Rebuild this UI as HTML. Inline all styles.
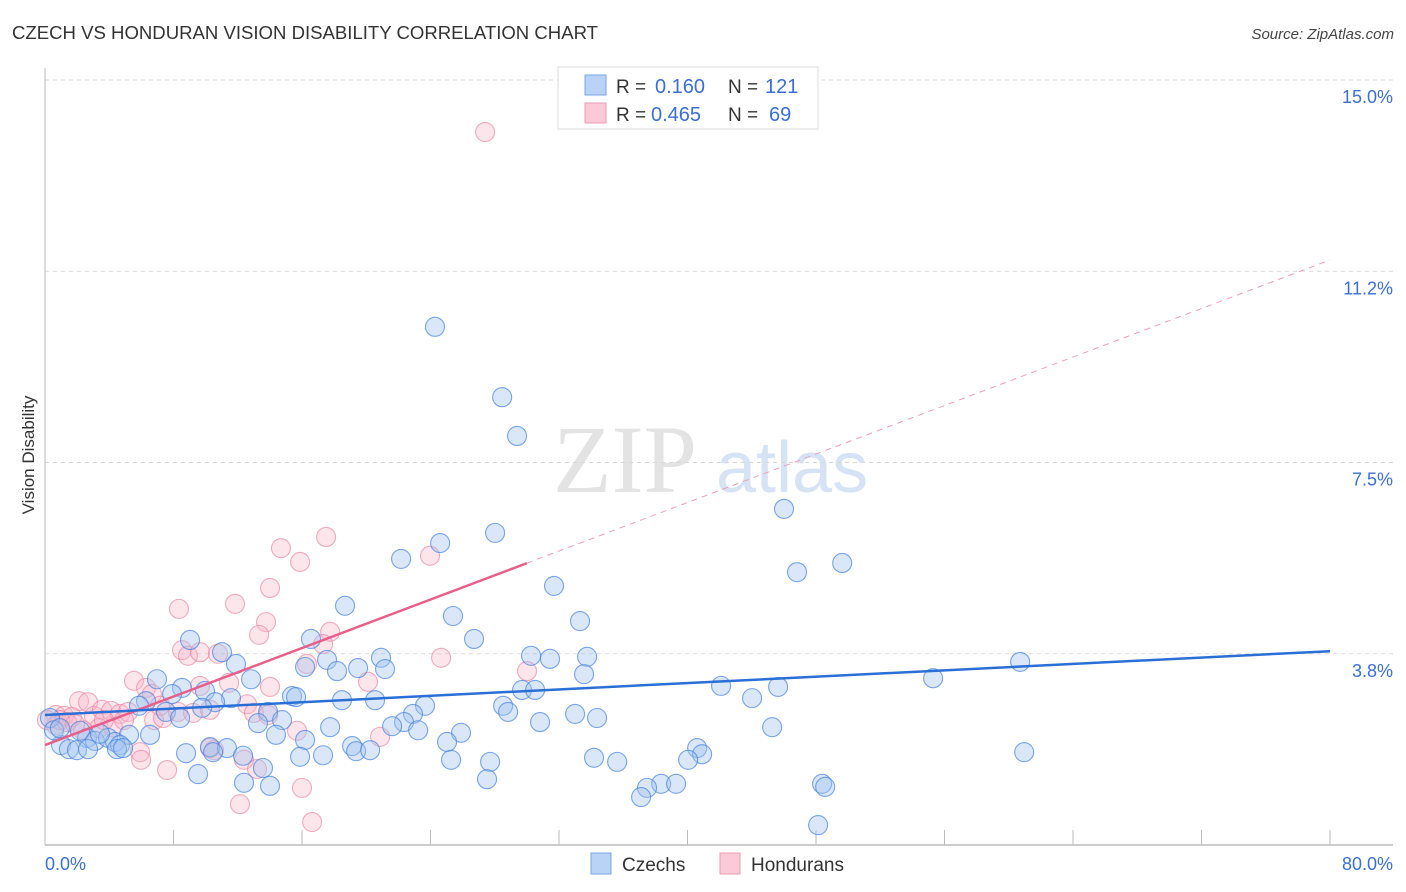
<!DOCTYPE html>
<html><head><meta charset="utf-8"><style>
body{margin:0;background:#fff;font-family:"Liberation Sans",sans-serif;}
svg{display:block}
</style></head><body>
<svg id="chart" width="1406" height="892" xmlns="http://www.w3.org/2000/svg">
<text x="12" y="39" font-size="18" fill="#333" textLength="586" lengthAdjust="spacingAndGlyphs">CZECH VS HONDURAN VISION DISABILITY CORRELATION CHART</text>
<text x="1394" y="39" font-size="15" fill="#444" font-style="italic" text-anchor="end">Source: ZipAtlas.com</text>
<g>
<text x="553" y="492" font-family="Liberation Serif,serif" font-size="96" fill="#e3e3e3">ZIP</text>
<text x="716" y="492" font-size="72" fill="#d6e3f5">atlas</text>
</g>
<g id="grid"></g>
<g id="axes"></g>
<g id="pink"></g>
<g id="blue"></g>
<g id="lines"></g>
<text transform="translate(34,455) rotate(-90)" font-size="17" fill="#333" text-anchor="middle">Vision Disability</text>
<g>
<rect x="558" y="67" width="260" height="62" fill="#fff" stroke="#ddd"/>
<rect x="585" y="75" width="21" height="20" fill="#b8d3f5" stroke="#7aa6e6"/>
<rect x="585" y="103" width="21" height="20" fill="#fbc9d8" stroke="#ee9ab3"/>
<text x="616" y="93" font-size="19" fill="#333">R =</text>
<text x="655" y="93" font-size="20" fill="#3b6fd4">0.160</text>
<text x="728" y="93" font-size="19" fill="#333">N =</text>
<text x="765" y="93" font-size="20" fill="#3b6fd4">121</text>
<text x="616" y="121" font-size="19" fill="#333">R =</text>
<text x="651" y="121" font-size="20" fill="#3b6fd4">0.465</text>
<text x="728" y="121" font-size="19" fill="#333">N =</text>
<text x="769" y="121" font-size="20" fill="#3b6fd4">69</text>
</g>
<g>
<rect x="591" y="853" width="20" height="21" fill="#b8d3f5" stroke="#7aa6e6"/>
<text x="622" y="871" font-size="19" fill="#333">Czechs</text>
<rect x="720" y="853" width="20" height="21" fill="#fbc9d8" stroke="#ee9ab3"/>
<text x="751" y="871" font-size="19" fill="#333">Hondurans</text>
</g>
</svg>
<script>
const xTickLabels=["0.0%","80.0%"];
const yTicks=[3.75,7.5,11.25,15];
const yTickLabels=["3.8%","7.5%","11.2%","15.0%"];
const czechX=[24.28,28.46,29.39,46.01,28.02,24.6,22.17,46.82,49.63,31.69,18.68,33.31,25.4,26.71,16.56,9.03,11.02,17.56,20.92,30.26,33.75,31.44,60.71,11.89,16.19,19.49,21.17,33.56,18.18,6.97,12.83,55.29,8.53,29.7,30.51,42.09,45.64,9.96,15.38,15.63,7.91,11.58,10.59,20.55,23.66,18.49,44.02,28.52,6.29,5.85,9.78,7.53,28.83,8.41,33.0,34.37,13.89,22.91,30.82,13.26,22.35,21.61,17.75,14.76,23.23,45.27,25.9,6.54,5.23,14.38,25.03,16.19,40.6,2.62,3.11,3.92,4.36,4.67,19.12,1.0,1.49,1.99,2.68,4.48,4.86,10.27,11.33,19.37,20.24,8.78,10.46,12.33,17.31,15.88,60.96,40.91,34.18,35.62,25.28,27.71,40.04,9.53,13.57,27.52,12.39,14.01,38.36,39.29,37.48,48.38,48.57,37.11,48.13,0.31,0.56,0.93,2.18,3.42];
const czechY=[10.16,8.78,8.02,6.59,6.12,5.92,5.61,5.35,5.53,5.08,4.69,4.39,4.49,4.04,4.04,4.02,3.78,3.63,3.67,3.71,3.69,3.65,3.59,3.55,3.49,3.47,3.45,3.35,3.41,3.25,3.25,3.27,3.08,3.04,3.04,3.12,3.10,3.02,2.92,2.90,2.96,2.88,2.80,2.84,2.73,2.84,2.88,2.73,2.82,2.73,2.69,2.61,2.61,2.49,2.57,2.49,2.61,2.57,2.41,2.39,2.41,2.33,2.31,2.45,2.25,2.31,2.20,2.16,2.16,2.16,2.02,2.06,1.90,2.10,2.04,2.10,2.02,1.96,1.94,1.96,1.88,1.86,1.88,1.88,1.90,1.92,1.90,1.84,1.86,1.80,1.82,1.75,1.76,1.73,1.82,1.78,1.71,1.63,1.67,1.63,1.67,1.39,1.51,1.29,1.22,1.16,1.20,1.20,1.12,1.20,1.14,0.94,0.39,2.49,2.25,2.29,2.24,2.18];
const hondX=[27.4,17.5,14.69,15.88,23.97,14.01,8.34,11.83,13.76,13.33,17.75,17.31,8.53,8.9,9.65,10.77,24.66,16.31,30.01,5.54,6.29,11.46,20.11,6.66,9.65,14.01,12.58,2.12,2.68,0.68,1.18,1.68,3.05,3.55,4.11,4.67,5.17,6.79,7.35,8.28,9.22,10.27,13.01,13.89,15.69,20.86,0.68,3.36,4.23,2.37,5.92,5.98,10.52,12.39,10.27,13.2,7.6,12.14,16.0,16.63,0.93,1.37,1.87,0.12,4.92,7.16,3.67];
const hondY=[13.98,6.04,5.82,5.55,5.67,5.04,4.63,4.73,4.37,4.12,4.18,3.94,3.82,3.71,3.78,3.75,3.67,3.55,3.41,3.22,3.08,3.18,3.20,2.96,3.12,3.10,2.76,2.82,2.80,2.55,2.53,2.51,2.53,2.65,2.63,2.57,2.61,2.45,2.49,2.61,2.59,2.65,2.59,2.55,2.24,2.12,2.35,2.29,2.31,2.25,1.82,1.67,1.86,1.67,1.90,1.49,1.47,0.80,1.12,0.45,2.45,2.41,2.37,2.45,2.45,2.73,2.45];
const czechTrend=[2.55,3.80];
const hondTrend=[1.96,11.47];
const hondSolidEnd=30.0;

const X0=45,X1=1330,YB=845,YS=51;
const sx=v=>X0+(v/80)*(X1-X0);
const sy=v=>YB-v*YS;
const NS="http://www.w3.org/2000/svg";
function mk(tag,attrs,parent){const e=document.createElementNS(NS,tag);for(const k in attrs)e.setAttribute(k,attrs[k]);parent.appendChild(e);return e;}
const grid=document.getElementById('grid');
yTicks.forEach((t,i)=>{
  const l=mk('line',{x1:X0,x2:1393,y1:sy(t),y2:sy(t),stroke:'#d8d8d8','stroke-dasharray':'4,4'},grid);
  
  
  const tx=mk('text',{x:1393,y:sy(t)+23,'font-size':18,fill:'#3b6fd4','text-anchor':'end'},grid);
  tx.textContent=yTickLabels[i];
  
  
});
const axes=document.getElementById('axes');
const ya=mk('line',{x1:X0,x2:X0,y1:68,y2:YB,stroke:'#bbb'},axes);


const xa=mk('line',{x1:X0,x2:1393,y1:YB,y2:YB,stroke:'#bbb','stroke-width':1.5},axes);


for(let v=0;v<=80;v+=8){
  const t=mk('line',{x1:sx(v),x2:sx(v),y1:YB,y2:YB-15,stroke:'#bbb'},axes);
  
  
}
const xl0=mk('text',{x:45,y:870,'font-size':18,fill:'#3b6fd4'},axes);xl0.textContent=xTickLabels[0];


const xl1=mk('text',{x:1393,y:870,'font-size':18,fill:'#3b6fd4','text-anchor':'end'},axes);xl1.textContent=xTickLabels[1];


const bg=document.getElementById('blue'),pg=document.getElementById('pink');
hondX.forEach((x,i)=>{
  const c=mk('circle',{cx:sx(x),cy:sy(hondY[i]),r:9.5,fill:'rgba(248,180,200,0.35)',stroke:'rgba(232,130,160,0.65)','stroke-width':1.1},pg);
  
  
});
czechX.forEach((x,i)=>{
  const c=mk('circle',{cx:sx(x),cy:sy(czechY[i]),r:9.5,fill:'rgba(160,196,240,0.4)',stroke:'rgba(70,130,220,0.7)','stroke-width':1.1},bg);
  
  
});
const lg=document.getElementById('lines');
const hAt=v=>hondTrend[0]+(hondTrend[1]-hondTrend[0])*v/80;
const hd=mk('line',{x1:sx(hondSolidEnd),y1:sy(hAt(hondSolidEnd)),x2:sx(80),y2:sy(hondTrend[1]),stroke:'#eea0b8','stroke-dasharray':'6,5','stroke-width':1},lg);


const hs=mk('line',{x1:sx(0),y1:sy(hondTrend[0]),x2:sx(hondSolidEnd),y2:sy(hAt(hondSolidEnd)),stroke:'#e8608a','stroke-width':2.5},lg);


const bl=mk('line',{x1:sx(0),y1:sy(czechTrend[0]),x2:sx(80),y2:sy(czechTrend[1]),stroke:'#2a6fd6','stroke-width':2.5},lg);


</script>
</body></html>
